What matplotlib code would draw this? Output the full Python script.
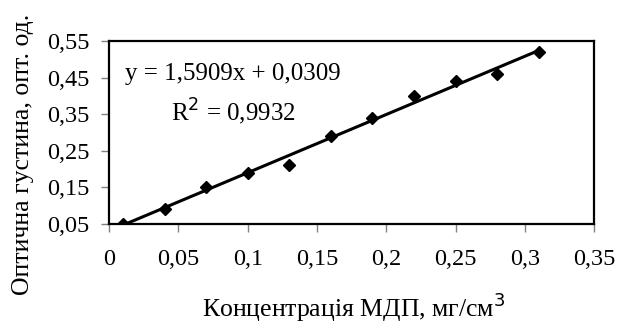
import numpy as np
import matplotlib
matplotlib.use("Agg")
import matplotlib.pyplot as plt
from matplotlib.ticker import FixedLocator, FuncFormatter

conc = [0.01, 0.04, 0.07, 0.10, 0.13, 0.16, 0.19, 0.22, 0.25, 0.28, 0.31]
dens = [0.05, 0.09, 0.15, 0.19, 0.21, 0.29, 0.34, 0.40, 0.44, 0.46, 0.52]
xticks = [0, 0.05, 0.1, 0.15, 0.2, 0.25, 0.3, 0.35]
yticks = [0.05, 0.15, 0.25, 0.35, 0.45, 0.55]

plt.rcParams['font.family'] = ['Liberation Serif', 'DejaVu Serif']

fig = plt.figure(figsize=(6.17, 3.25), dpi=100)
ax = fig.add_axes([0.177, 0.311, 0.786, 0.563])

k, b = np.polyfit(conc, dens, 1)
xl = np.array([conc[0], conc[-1]])
ax.plot(xl, k * xl + b, color='black', lw=2.2, zorder=2)
ax.plot(conc, dens, 'D', color='black', ms=6.5, zorder=3)

ax.set_xlim(0, 0.35)
ax.set_ylim(0.05, 0.55)
ax.xaxis.set_major_locator(FixedLocator(xticks))
ax.yaxis.set_major_locator(FixedLocator(yticks))
fmt = FuncFormatter(lambda v, p: ('%g' % round(v, 2)).replace('.', ','))
ax.xaxis.set_major_formatter(fmt)
ax.yaxis.set_major_formatter(fmt)
ax.tick_params(axis='x', direction='out', length=6, width=1, color='#808080',
               pad=12, labelsize=17.5)
ax.tick_params(axis='y', direction='out', length=6, width=1, color='#808080',
               pad=8, labelsize=17.5)
for s in ax.spines.values():
    s.set_linewidth(1.6)

ax.text(0.032, 0.82, 'y = 1,5909x + 0,0309', transform=ax.transAxes,
        fontsize=18, va='center', ha='left')
ax.text(0.128, 0.615, 'R$^2$ = 0,9932', transform=ax.transAxes,
        fontsize=18, va='center', ha='left')

ax.set_xlabel('Концентрація МДП, мг/см$^3$', fontsize=18.5)
ax.xaxis.set_label_coords(0.505, -0.365)
ax.set_ylabel('Оптична густина, опт. од.', fontsize=18.5)
ax.yaxis.set_label_coords(-0.155, 0.38)

fig.savefig('out.png', dpi=100)
